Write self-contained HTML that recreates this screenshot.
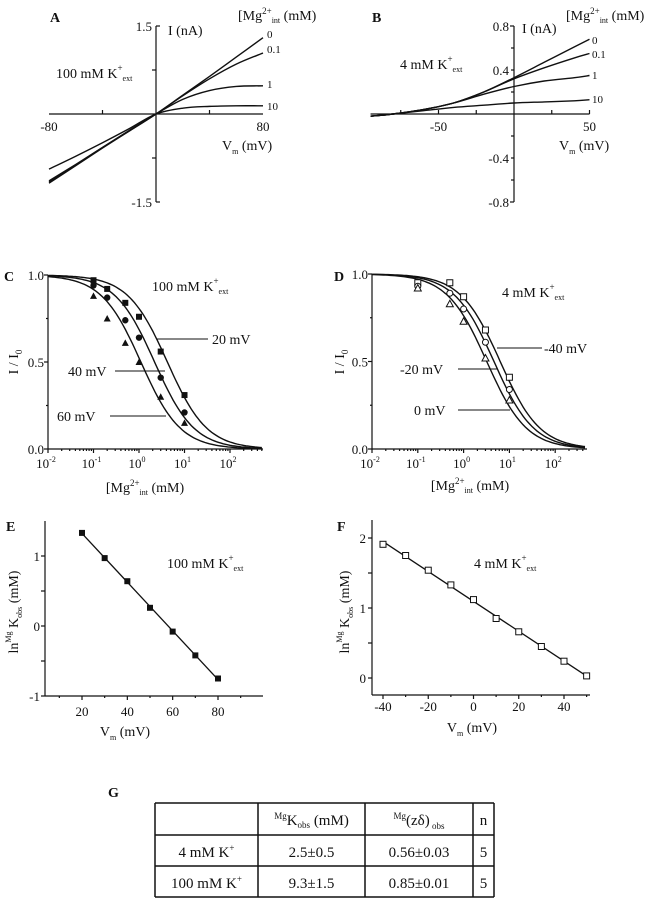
<!DOCTYPE html>
<html><head><meta charset="utf-8"><style>
html,body{margin:0;padding:0;background:#fff}
svg{display:block}
text{font-family:"Liberation Serif",serif;fill:#111}
</style></head><body>
<svg id="fig" width="658" height="899" viewBox="0 0 658 899" xmlns="http://www.w3.org/2000/svg">
<g id="root"></g>
</svg>
<script>
// ---- Panel A data ----
const aVolt = [-80,-60,-40,-20,0,20,40,60,80];
const aMgLabels = ["0","0.1","1","10"];
const aI0 = [-1.18,-0.88,-0.58,-0.29,0,0.32,0.64,0.97,1.30];
const aI01 = [-1.16,-0.87,-0.57,-0.29,0,0.31,0.60,0.85,1.04];
const aI1 = [-1.14,-0.86,-0.57,-0.28,0,0.25,0.40,0.47,0.48];
const aI10 = [-0.94,-0.72,-0.49,-0.25,0,0.10,0.13,0.14,0.14];
// ---- Panel B data ----
const bVolt = [-95,-80,-60,-40,-20,0,20,40,50];
const bI0 = [-0.02,0,0.04,0.10,0.20,0.33,0.47,0.61,0.68];
const bI01 = [-0.02,0,0.04,0.10,0.20,0.32,0.42,0.51,0.55];
const bI1 = [-0.02,0,0.04,0.10,0.18,0.25,0.30,0.33,0.35];
const bI10 = [-0.02,0,0.03,0.06,0.08,0.10,0.11,0.12,0.13];
// ---- Panel C data ----
const cConc = [0.1,0.2,0.5,1,3,10];
const cV20 = [0.97,0.92,0.84,0.76,0.56,0.31];
const cV40 = [0.94,0.87,0.74,0.64,0.41,0.21];
const cV60 = [0.88,0.75,0.61,0.50,0.30,0.15];
const cK = [4.2,2.2,1.1];
// ---- Panel D data ----
const dConc = [0.1,0.5,1,3,10];
const dVm40 = [0.95,0.95,0.87,0.68,0.41];
const dVm20 = [0.93,0.89,0.80,0.61,0.34];
const dV0 = [0.92,0.83,0.73,0.52,0.28];
const dK = [6.3,4.6,3.2];
// ---- Panel E data ----
const eVolt = [20,30,40,50,60,70,80];
const eLnK = [1.33,0.97,0.64,0.26,-0.08,-0.42,-0.75];
// ---- Panel F data ----
const fVolt = [-40,-30,-20,-10,0,10,20,30,40,50];
const fLnK = [1.91,1.75,1.54,1.33,1.12,0.85,0.66,0.45,0.24,0.03];

const NS="http://www.w3.org/2000/svg";
const root=document.getElementById('root');
function el(tag,attrs,parent){const e=document.createElementNS(NS,tag);for(const k in attrs)e.setAttribute(k,attrs[k]);(parent||root).appendChild(e);return e;}
function line(x1,y1,x2,y2,p,w){return el('line',{x1,y1,x2,y2,stroke:'#111','stroke-width':w||1.2},p);}
function txt(x,y,s,opts,p){const t=el('text',Object.assign({x,y,'font-size':13},opts||{}),p);t.innerHTML=s;return t;}
function grp(name){const g=el('g',{});return g;}
function poly(pts,p){return el('polyline',{points:pts.map(q=>q[0].toFixed(1)+','+q[1].toFixed(1)).join(' '),fill:'none',stroke:'#111','stroke-width':1.4},p);}
function smooth(pts,p){ // catmull-rom
  let d='M'+pts[0][0]+','+pts[0][1];
  for(let i=0;i<pts.length-1;i++){const p0=pts[Math.max(0,i-1)],p1=pts[i],p2=pts[i+1],p3=pts[Math.min(pts.length-1,i+2)];
    d+=' C'+(p1[0]+(p2[0]-p0[0])/6)+','+(p1[1]+(p2[1]-p0[1])/6)+' '+(p2[0]-(p3[0]-p1[0])/6)+','+(p2[1]-(p3[1]-p1[1])/6)+' '+p2[0]+','+p2[1];}
  return el('path',{d,fill:'none',stroke:'#111','stroke-width':1.4},p);}

// ===== Panel A =====
(function(){
const g=grp('panel-a');
const sx=v=>156+v*107/80, sy=i=>114-i*88/1.5;
txt(50,22,'A',{'font-weight':'bold','font-size':14},g);
line(sx(-80),sy(0),sx(80),sy(0),g); line(sx(0),sy(1.5),sx(0),sy(-1.5),g);
line(sx(0),sy(1.5),sx(0)+4,sy(1.5),g); line(sx(0),sy(-1.5),sx(0)+4,sy(-1.5),g);
[-40,40].forEach(v=>line(sx(v),sy(0),sx(v),sy(0)-4,g));
[-0.75,0.75].forEach(v=>line(sx(0),sy(v),sx(0)-4,sy(v),g));
txt(152,sy(1.5)+5,'1.5',{'text-anchor':'end'},g); txt(152,sy(-1.5)+5,'-1.5',{'text-anchor':'end'},g);
txt(sx(-80),131,'-80',{'text-anchor':'middle'},g); txt(sx(80),131,'80',{'text-anchor':'middle'},g);
txt(168,35,'I (nA)',{'font-size':14},g);
txt(238,20,'[Mg<tspan font-size="9" dy="-6">2+</tspan><tspan font-size="8" dy="9">int</tspan><tspan dy="-3"> (mM)</tspan>',{'font-size':14},g);
txt(222,150,'V<tspan font-size="8" dy="4">m</tspan><tspan dy="-4"> (mV)</tspan>',{'font-size':14},g);
txt(56,78,'100 mM K<tspan font-size="9" dy="-7">+</tspan><tspan font-size="8" dy="10">ext</tspan>',{'font-size':14},g);
const series=[aI0,aI01,aI1,aI10], ly=[38,53,88,110];
series.forEach((s,k)=>{const c=smooth(aVolt.map((v,i)=>[sx(v),sy(s[i])]),g);
 txt(267,ly[k],aMgLabels[k],{'font-size':11},g);});
})();

// ===== Panel B =====
(function(){
const g=grp('panel-b');
const sx=v=>514+v*75.5/50, sy=i=>114-i*110;
txt(372,22,'B',{'font-weight':'bold','font-size':14},g);
line(sx(-95),sy(0),sx(50),sy(0),g); line(sx(0),sy(0.8),sx(0),sy(-0.8),g);
line(sx(0),sy(0.8),sx(0)-4,sy(0.8),g); line(sx(0),sy(-0.8),sx(0)-4,sy(-0.8),g);
[-75,-50,-25,25,50].forEach(v=>line(sx(v),sy(0),sx(v),sy(0)-4,g));
[-0.6,-0.4,-0.2,0.2,0.4,0.6].forEach(v=>line(sx(0),sy(v),sx(0)-3,sy(v),g));
[[0.8,'0.8'],[0.4,'0.4'],[-0.4,'-0.4'],[-0.8,'-0.8']].forEach(t=>txt(509,sy(t[0])+5,t[1],{'text-anchor':'end'},g));
txt(sx(-50),131,'-50',{'text-anchor':'middle'},g); txt(sx(50),131,'50',{'text-anchor':'middle'},g);
txt(522,33,'I (nA)',{'font-size':14},g);
txt(566,20,'[Mg<tspan font-size="9" dy="-6">2+</tspan><tspan font-size="8" dy="9">int</tspan><tspan dy="-3"> (mM)</tspan>',{'font-size':14},g);
txt(559,150,'V<tspan font-size="8" dy="4">m</tspan><tspan dy="-4"> (mV)</tspan>',{'font-size':14},g);
txt(400,69,'4 mM K<tspan font-size="9" dy="-7">+</tspan><tspan font-size="8" dy="10">ext</tspan>',{'font-size':14},g);
const series=[bI0,bI01,bI1,bI10], ly=[44,58,79,103];
series.forEach((s,k)=>{const c=smooth(bVolt.map((v,i)=>[sx(v),sy(s[i])]),g);
 txt(592,ly[k],aMgLabels[k],{'font-size':11},g);});
})();

// ===== dose-response helper =====
function dose(g,x0,perDec,y0,y1,xEnd,conc,sets,Ks,marks){
 const sx=c=>x0+(Math.log10(c)+2)*perDec, sy=v=>y0-(y0-y1)*v;
 line(x0,sy(0),xEnd,sy(0),g); line(x0,sy(0),x0,sy(1),g);
 [0,0.5,1].forEach(v=>line(x0,sy(v),x0-4,sy(v),g));
 [0.25,0.75].forEach(v=>line(x0,sy(v),x0-2,sy(v),g));
 txt(x0-4,sy(1)+5,'1.0',{'text-anchor':'end'},g); txt(x0-4,sy(0.5)+5,'0.5',{'text-anchor':'end'},g); txt(x0-4,sy(0)+5,'0.0',{'text-anchor':'end'},g);
 for(let d=-2;d<=2;d++){line(sx(Math.pow(10,d)),sy(0),sx(Math.pow(10,d)),sy(0)+4,g);
   txt(sx(Math.pow(10,d))-2,sy(0)+19,'10<tspan font-size="8" dy="-6">'+d+'</tspan>',{'text-anchor':'middle'},g);
   for(let m=2;m<10;m++){const c=m*Math.pow(10,d);if(sx(c)<=xEnd)line(sx(c),sy(0),sx(c),sy(0)+2,g);} }
 Ks.forEach(K=>{const pts=[];for(let l=-2;l<=Math.log10(Math.pow(10,(xEnd-x0)/perDec-2));l+=0.05){const c=Math.pow(10,l);pts.push([sx(c),sy(1/(1+c/K))]);}poly(pts,g);});
 sets.forEach((s,k)=>s.forEach((v,i)=>{const x=sx(conc[i]),y=sy(v);let m;
  if(marks[k]==='sq')m=el('rect',{x:x-3,y:y-3,width:6,height:6,fill:'#111'},g);
  else if(marks[k]==='ci')m=el('circle',{cx:x,cy:y,r:3.2,fill:'#111'},g);
  else if(marks[k]==='tr')m=el('polygon',{points:`${x},${y-3.5} ${x+3.5},${y+3} ${x-3.5},${y+3}`,fill:'#111'},g);
  else if(marks[k]==='osq')m=el('rect',{x:x-3,y:y-3,width:6,height:6,fill:'#fff',stroke:'#111','stroke-width':1},g);
  else if(marks[k]==='oci')m=el('circle',{cx:x,cy:y,r:3,fill:'#fff',stroke:'#111','stroke-width':1},g);
  else m=el('polygon',{points:`${x},${y-3.5} ${x+3.5},${y+3} ${x-3.5},${y+3}`,fill:'#fff',stroke:'#111','stroke-width':1},g);
  }));
 return {sx,sy};
}

// ===== Panel C =====
(function(){
const g=grp('panel-c');
txt(4,281,'C',{'font-weight':'bold','font-size':14},g);
dose(g,48,45.5,449,275,263,cConc,[cV20,cV40,cV60],cK,['sq','ci','tr']);
txt(18,362,'I / I<tspan font-size="9" dy="4">0</tspan>',{'font-size':14,'text-anchor':'middle',transform:'rotate(-90 18 362)'},g);
txt(152,291,'100 mM K<tspan font-size="9" dy="-7">+</tspan><tspan font-size="8" dy="10">ext</tspan>',{'font-size':14},g);
line(157,339,208,339,g,1); txt(212,344,'20 mV',{'font-size':14},g);
line(115,371,165,371,g,1); txt(68,376,'40 mV',{'font-size':14},g);
line(110,416,166,416,g,1); txt(57,421,'60 mV',{'font-size':14},g);
txt(145,492,'[Mg<tspan font-size="9" dy="-6">2+</tspan><tspan font-size="8" dy="9">int</tspan><tspan dy="-3"> (mM)</tspan>',{'font-size':14,'text-anchor':'middle'},g);
})();

// ===== Panel D =====
(function(){
const g=grp('panel-d');
txt(334,281,'D',{'font-weight':'bold','font-size':14},g);
dose(g,372,45.8,449,274,587,dConc,[dVm40,dVm20,dV0],dK,['osq','oci','otr']);
txt(344,362,'I / I<tspan font-size="9" dy="4">0</tspan>',{'font-size':14,'text-anchor':'middle',transform:'rotate(-90 344 362)'},g);
txt(502,297,'4 mM K<tspan font-size="9" dy="-7">+</tspan><tspan font-size="8" dy="10">ext</tspan>',{'font-size':14},g);
line(497,348,542,348,g,1); txt(544,353,'-40 mV',{'font-size':14},g);
line(458,369,497,369,g,1); txt(400,374,'-20 mV',{'font-size':14},g);
line(458,410,510,410,g,1); txt(414,415,'0 mV',{'font-size':14},g);
txt(470,490,'[Mg<tspan font-size="9" dy="-6">2+</tspan><tspan font-size="8" dy="9">int</tspan><tspan dy="-3"> (mM)</tspan>',{'font-size':14,'text-anchor':'middle'},g);
})();

// ===== linear fit helper =====
function fitLine(xs,ys){const n=xs.length,mx=xs.reduce((a,b)=>a+b)/n,my=ys.reduce((a,b)=>a+b)/n;let sxy=0,sxx=0;xs.forEach((x,i)=>{sxy+=(x-mx)*(ys[i]-my);sxx+=(x-mx)*(x-mx);});const b=sxy/sxx;return [b,my-b*mx];}

// ===== Panel E =====
(function(){
const g=grp('panel-e');
const sx=v=>82+(v-20)*136/60, sy=l=>626-l*70;
txt(6,531,'E',{'font-weight':'bold','font-size':14},g);
line(45,sy(-1),263,sy(-1),g); line(45,sy(-1),45,521,g);
[-1,-0.5,0,0.5,1].forEach(v=>line(45,sy(v),41,sy(v),g));
[[1,'1'],[0,'0'],[-1,'-1']].forEach(t=>txt(40,sy(t[0])+5,t[1],{'text-anchor':'end'},g));
[10,20,30,40,50,60,70,80,90].forEach(v=>line(sx(v),sy(-1),sx(v),sy(-1)+(v%20===0?4:2),g));
[20,40,60,80].forEach(v=>txt(sx(v),716,String(v),{'text-anchor':'middle'},g));
const [b,a]=fitLine(eVolt,eLnK);
line(sx(eVolt[0]),sy(a+b*eVolt[0]),sx(eVolt[eVolt.length-1]),sy(a+b*eVolt[eVolt.length-1]),g,1.3);
eVolt.forEach((v,i)=>{const m=el('rect',{x:sx(v)-3,y:sy(eLnK[i])-3,width:6,height:6,fill:'#111'},g);});
txt(167,568,'100 mM K<tspan font-size="9" dy="-7">+</tspan><tspan font-size="8" dy="10">ext</tspan>',{'font-size':14},g);
txt(18,612,'ln<tspan font-size="8" dy="-7">Mg</tspan><tspan dy="7"> K</tspan><tspan font-size="8" dy="4">obs</tspan><tspan dy="-4"> (mM)</tspan>',{'font-size':14,'text-anchor':'middle',transform:'rotate(-90 18 612)'},g);
txt(125,736,'V<tspan font-size="8" dy="4">m</tspan><tspan dy="-4"> (mV)</tspan>',{'font-size':14,'text-anchor':'middle'},g);
})();

// ===== Panel F =====
(function(){
const g=grp('panel-f');
const sx=v=>473.5+v*181/80, sy=l=>678-l*70;
txt(337,531,'F',{'font-weight':'bold','font-size':14},g);
line(372,695,590,695,g); line(372,695,372,520,g);
[0,0.5,1,1.5,2].forEach(v=>line(372,sy(v),368,sy(v),g));
[[2,'2'],[1,'1'],[0,'0']].forEach(t=>txt(366,sy(t[0])+5,t[1],{'text-anchor':'end'},g));
[-40,-30,-20,-10,0,10,20,30,40,50].forEach(v=>line(sx(v),695,sx(v),695+(v%20===0?4:2),g));
[-40,-20,0,20,40].forEach(v=>txt(sx(v),711,String(v),{'text-anchor':'middle'},g));
const [b,a]=fitLine(fVolt,fLnK);
line(sx(fVolt[0]),sy(a+b*fVolt[0]),sx(fVolt[fVolt.length-1]),sy(a+b*fVolt[fVolt.length-1]),g,1.3);
fVolt.forEach((v,i)=>{const m=el('rect',{x:sx(v)-3,y:sy(fLnK[i])-3,width:6,height:6,fill:'#fff',stroke:'#111','stroke-width':1},g);});
txt(474,568,'4 mM K<tspan font-size="9" dy="-7">+</tspan><tspan font-size="8" dy="10">ext</tspan>',{'font-size':14},g);
txt(349,612,'ln<tspan font-size="8" dy="-7">Mg</tspan><tspan dy="7"> K</tspan><tspan font-size="8" dy="4">obs</tspan><tspan dy="-4"> (mM)</tspan>',{'font-size':14,'text-anchor':'middle',transform:'rotate(-90 349 612)'},g);
txt(472,732,'V<tspan font-size="8" dy="4">m</tspan><tspan dy="-4"> (mV)</tspan>',{'font-size':14,'text-anchor':'middle'},g);
})();

// ===== Panel G (table) =====
(function(){
const g=grp('panel-g-table');
txt(108,797,'G',{'font-weight':'bold','font-size':14},g);
const xs=[155,258,365,473,494], ys=[803,835,866,897];
xs.forEach(x=>line(x,803,x,897,g,1.5)); ys.forEach(y=>line(155,y,494,y,g,1.5));
const cell=(c,r,s)=>txt((xs[c]+xs[c+1])/2,ys[r]+22,s,{'text-anchor':'middle','font-size':15},g);
cell(1,0,'<tspan font-size="9" dy="-6">Mg</tspan><tspan dy="6">K</tspan><tspan font-size="9" dy="3">obs</tspan><tspan dy="-3"> (mM)</tspan>');
cell(2,0,'<tspan font-size="9" dy="-6">Mg</tspan><tspan dy="6">(zδ)</tspan><tspan font-size="9" dy="4"> obs</tspan>');
cell(3,0,'n');
cell(0,1,'4 mM K<tspan font-size="9" dy="-6">+</tspan>'); cell(1,1,'2.5±0.5'); cell(2,1,'0.56±0.03'); cell(3,1,'5');
cell(0,2,'100 mM K<tspan font-size="9" dy="-6">+</tspan>'); cell(1,2,'9.3±1.5'); cell(2,2,'0.85±0.01'); cell(3,2,'5');
})();
</script>
</body></html>
